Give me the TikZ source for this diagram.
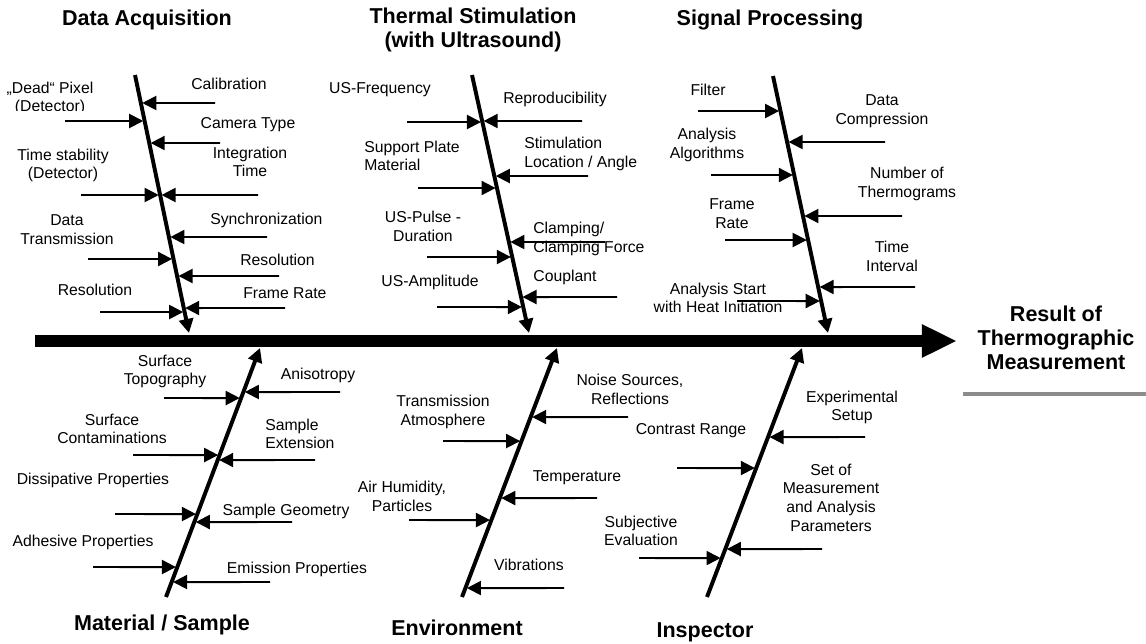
\documentclass[tikz,border=0pt]{standalone}
\usepackage{fontspec}
\setmainfont{Liberation Sans}
\usetikzlibrary{arrows.meta}

\begin{document}
\begin{tikzpicture}[x=0.025cm, y=-0.025cm,
  lbl/.style={font=\fontsize{11.2}{13.3}\selectfont, align=center, inner sep=0pt},
  ttl/.style={font=\fontsize{15.3}{17}\selectfont\bfseries, align=center, inner sep=0pt},
  rib/.style={line width=1.4pt, -{Triangle[length=10pt,width=10pt]}, shorten >=1pt},
  bone/.style={line width=2.8pt, -{Triangle[length=10pt,width=10pt]}},
  spine/.style={line width=9.2pt, -{Triangle[length=25pt,width=22pt]}}]
\useasboundingbox (0,0) rectangle (1146,644);

% main axis
\coordinate (sp0) at (35,341);
\coordinate (sp1) at (957,341);
\draw [spine] (sp0) -- (sp1);
\node [ttl] (result) at (1056,338) {Result of\\Thermographic\\Measurement};
\draw [line width=3pt, black!45] (963,394) -- (1146,394);

% bone ends
\coordinate (acq0) at (135,75);   \coordinate (acq1) at (189,333);
\coordinate (sti0) at (472,75);   \coordinate (sti1) at (529,333);
\coordinate (sig0) at (773,76);   \coordinate (sig1) at (828,333);
\coordinate (mat0) at (166,597);  \coordinate (mat1) at (260,348);
\coordinate (env0) at (462,597);  \coordinate (env1) at (557,348);
\coordinate (ins0) at (707,597);  \coordinate (ins1) at (802,348);

% titles
\node [ttl] (tacq) at (147,20) {Data Acquisition};
\node [ttl] (tsti) at (473,30) {Thermal Stimulation\\(with Ultrasound)};
\node [ttl] (tsig) at (770,20) {Signal Processing};
\node [ttl] (tmat) at (162,625) {Material / Sample};
\node [ttl] (tenv) at (457,628) {Environment};
\node [ttl] (tins) at (705,632) {Inspector};

% Data Acquisition
\begin{scope}
\clip (0,0) rectangle (130,111);
\node [lbl] (dead) at (50,98.5) {„Dead“ Pixel\\(Detector)};
\end{scope}
\node [lbl] (calib) at (229,84) {Calibration};
\node [lbl] (camera) at (248,125) {Camera Type};
\node [lbl] (integ) at (250,162) {Integration\\Time};
\node [lbl] (tstab) at (63,165.5) {Time stability\\(Detector)};
\node [lbl, anchor=west] (sync) at (210,220) {Synchronization};
\node [lbl] (datatr) at (67,230) {Data\\Transmission};
\node [lbl, anchor=west] (resR) at (240,260) {Resolution};
\node [lbl, anchor=west] (frameR) at (243,293) {Frame Rate};
\node [lbl] (resL) at (95,290) {Resolution};
\draw [rib] (215,103) -- (intersection of acq0--acq1 and 0,103--1,103);
\draw [rib] (65,121) -- (intersection of acq0--acq1 and 0,121--1,121);
\draw [rib] (220,143) -- (intersection of acq0--acq1 and 0,143--1,143);
\draw [rib] (81,195) -- (intersection of acq0--acq1 and 0,195--1,195);
\draw [rib] (258,195) -- (intersection of acq0--acq1 and 0,195--1,195);
\draw [rib] (267,237) -- (intersection of acq0--acq1 and 0,237--1,237);
\draw [rib] (88,259) -- (intersection of acq0--acq1 and 0,259--1,259);
\draw [rib] (279,276) -- (intersection of acq0--acq1 and 0,276--1,276);
\draw [rib] (100,312) -- (intersection of acq0--acq1 and 0,312--1,312);
\draw [rib] (285,308) -- (intersection of acq0--acq1 and 0,308--1,308);
\draw [bone] (acq0) -- (acq1);

% Thermal Stimulation
\node [lbl] (usfreq) at (380,90) {US-Frequency};
\node [lbl] (repro) at (555,99) {Reproducibility};
\node [lbl, align=left, anchor=west] (support) at (364,156) {Support Plate\\Material};
\node [lbl, align=left, anchor=west] (stimloc) at (524,154) {Stimulation\\Location / Angle};
\node [lbl] (uspulse) at (423,226.5) {US-Pulse -\\Duration};
\node [lbl, align=left, anchor=west] (clamp) at (533,239) {Clamping/\\Clamping Force};
\node [lbl] (usamp) at (430,282) {US-Amplitude};
\node [lbl] (coupl) at (565,277) {Couplant};
\draw [rib] (407,122) -- (intersection of sti0--sti1 and 0,122--1,122);
\draw [rib] (582,121) -- (intersection of sti0--sti1 and 0,121--1,121);
\draw [rib] (418,188) -- (intersection of sti0--sti1 and 0,188--1,188);
\draw [rib] (588,176) -- (intersection of sti0--sti1 and 0,176--1,176);
\draw [rib] (427,257) -- (intersection of sti0--sti1 and 0,257--1,257);
\draw [rib] (605,242) -- (intersection of sti0--sti1 and 0,242--1,242);
\draw [rib] (437,307) -- (intersection of sti0--sti1 and 0,307--1,307);
\draw [rib] (617,297) -- (intersection of sti0--sti1 and 0,297--1,297);
\draw [bone] (sti0) -- (sti1);

% Signal Processing
\node [lbl] (filter) at (708,90) {Filter};
\node [lbl] (datacomp) at (882,111) {Data\\Compression};
\node [lbl] (algo) at (707,145) {Analysis\\Algorithms};
\node [lbl] (numtherm) at (907,184) {Number of\\Thermograms};
\node [lbl] (frate) at (732,213.5) {Frame\\Rate};
\node [lbl] (tint) at (892,256.5) {Time\\Interval};
\node [lbl] (astart) at (718,298) {Analysis Start\\with Heat Initiation};
\draw [rib] (698,111) -- (intersection of sig0--sig1 and 0,111--1,111);
\draw [rib] (885,142) -- (intersection of sig0--sig1 and 0,142--1,142);
\draw [rib] (711,175) -- (intersection of sig0--sig1 and 0,175--1,175);
\draw [rib] (902,216) -- (intersection of sig0--sig1 and 0,216--1,216);
\draw [rib] (725,240) -- (intersection of sig0--sig1 and 0,240--1,240);
\draw [rib] (915,287) -- (intersection of sig0--sig1 and 0,287--1,287);
\draw [rib] (737,301) -- (intersection of sig0--sig1 and 0,301--1,301);
\draw [bone] (sig0) -- (sig1);

% Material / Sample
\node [lbl] (surftop) at (165,371.5) {Surface\\Topography};
\node [lbl] (aniso) at (318,375) {Anisotropy};
\node [lbl] (surfcont) at (112,429) {Surface\\Contaminations};
\node [lbl, align=left, anchor=west] (sampext) at (265,434) {Sample\\Extension};
\node [lbl] (dissip) at (93,480) {Dissipative Properties};
\node [lbl] (sampgeo) at (286,511) {Sample Geometry};
\node [lbl] (adhes) at (83,542) {Adhesive Properties};
\node [lbl] (emiss) at (297,569) {Emission Properties};
\draw [rib] (164,398) -- (intersection of mat0--mat1 and 0,398--1,398);
\draw [rib] (340,392) -- (intersection of mat0--mat1 and 0,392--1,392);
\draw [rib] (133,455) -- (intersection of mat0--mat1 and 0,455--1,455);
\draw [rib] (315,460) -- (intersection of mat0--mat1 and 0,460--1,460);
\draw [rib] (115,514) -- (intersection of mat0--mat1 and 0,514--1,514);
\draw [rib] (292,522) -- (intersection of mat0--mat1 and 0,522--1,522);
\draw [rib] (93,567) -- (intersection of mat0--mat1 and 0,567--1,567);
\draw [rib] (270,582) -- (intersection of mat0--mat1 and 0,582--1,582);
\draw [bone] (mat0) -- (mat1);

% Environment
\node [lbl] (noise) at (630,389.5) {Noise Sources,\\Reflections};
\node [lbl] (transm) at (443,412) {Transmission\\Atmosphere};
\node [lbl] (temp) at (577,478) {Temperature};
\node [lbl] (airhum) at (402,496.5) {Air Humidity,\\Particles};
\node [lbl] (vibr) at (529,565) {Vibrations};
\draw [rib] (628,417) -- (intersection of env0--env1 and 0,417--1,417);
\draw [rib] (443,441) -- (intersection of env0--env1 and 0,441--1,441);
\draw [rib] (597,498) -- (intersection of env0--env1 and 0,498--1,498);
\draw [rib] (409,520) -- (intersection of env0--env1 and 0,520--1,520);
\draw [rib] (564,588) -- (intersection of env0--env1 and 0,588--1,588);
\draw [bone] (env0) -- (env1);

% Inspector
\node [lbl] (expset) at (852,407.5) {Experimental\\Setup};
\node [lbl] (contr) at (691,431) {Contrast Range};
\node [lbl] (setof) at (831,497.5) {Set of\\Measurement\\and Analysis\\Parameters};
\node [lbl] (subj) at (641,531) {Subjective\\Evaluation};
\draw [rib] (865,437) -- (intersection of ins0--ins1 and 0,437--1,437);
\draw [rib] (677,468) -- (intersection of ins0--ins1 and 0,468--1,468);
\draw [rib] (822,549) -- (intersection of ins0--ins1 and 0,549--1,549);
\draw [rib] (639,558) -- (intersection of ins0--ins1 and 0,558--1,558);
\draw [bone] (ins0) -- (ins1);
\end{tikzpicture}
\end{document}
